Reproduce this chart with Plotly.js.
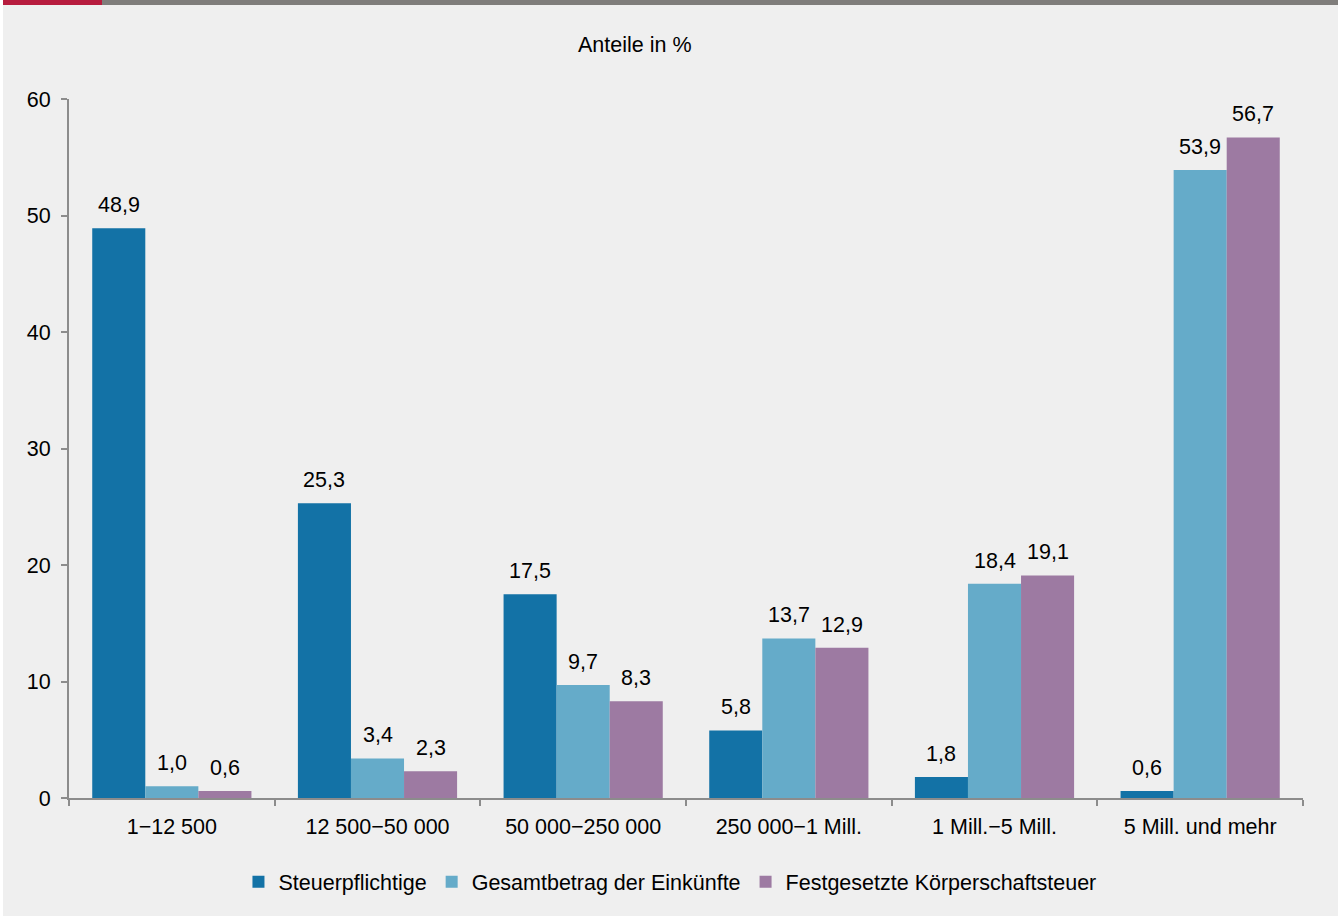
<!DOCTYPE html>
<html>
<head>
<meta charset="utf-8">
<script src="https://cdn.plot.ly/plotly-3.0.1.min.js"></script>
<style>
  html, body { margin: 0; padding: 0; background: #ffffff; }
  #wrap { position: relative; width: 1338px; height: 919px; overflow: hidden; }
  #chart { position: absolute; left: 0; top: 0; width: 1338px; height: 919px; }
  #edge-left { position: absolute; left: 0; top: 0; width: 3px; height: 919px; background: #ffffff; }
  #edge-bottom { position: absolute; left: 0; top: 916px; width: 1338px; height: 3px; background: #ffffff; }
  #bar-grey { position: absolute; left: 3px; top: 0; width: 1335px; height: 5px; background: #7f7d7b; }
  #bar-red { position: absolute; left: 3px; top: 0; width: 99px; height: 5px; background: #b71c3e; }
</style>
</head>
<body>
<div id="wrap">
  <div id="chart"></div>
  <div id="edge-left"></div>
  <div id="edge-bottom"></div>
  <div id="bar-grey"></div>
  <div id="bar-red"></div>
</div>
<script>
// Größenklassen des Gesamtbetrags der Einkünfte (EUR)
const categories = ["1\u221212 500", "12 500\u221250 000", "50 000\u2212250 000",
                    "250 000\u22121 Mill.", "1 Mill.\u22125 Mill.", "5 Mill. und mehr"];

// Anteile in %
const steuerpflichtige = [48.9, 25.3, 17.5, 5.8, 1.8, 0.6];
const gesamtbetrag     = [1.0, 3.4, 9.7, 13.7, 18.4, 53.9];
const festgesetzt      = [0.6, 2.3, 8.3, 12.9, 19.1, 56.7];

const seriesNames  = ["Steuerpflichtige", "Gesamtbetrag der Einkünfte", "Festgesetzte Körperschaftsteuer"];
const seriesColors = ["#1372a6", "#65abc9", "#9d7aa2"];
const seriesValues = [steuerpflichtige, gesamtbetrag, festgesetzt];

const yTicks = [0, 10, 20, 30, 40, 50, 60];

const FONT = "Liberation Sans, Arial, sans-serif";
const FS = 21.5;

// Plot geometry used to place value labels above their bars
const W = 1338, H = 919;
const M = { l: 69, r: 35, t: 99, b: 121 };
const BARGAP = 0.226;
const groupPx = (W - M.l - M.r) / categories.length;
const barPx = groupPx * (1 - BARGAP) / seriesValues.length;

const traces = seriesValues.map((vals, i) => ({
  type: "bar",
  name: seriesNames[i],
  x: categories,
  y: vals,
  marker: { color: seriesColors[i], line: { width: 0 } },
  hoverinfo: "skip"
}));

const fmt = v => v.toFixed(1).replace(".", ",");

const valueLabels = [];
seriesValues.forEach((vals, i) => {
  vals.forEach((v, j) => {
    valueLabels.push({
      text: fmt(v),
      x: categories[j], y: v,
      xref: "x", yref: "y",
      xanchor: "center", yanchor: "bottom",
      xshift: (i - (seriesValues.length - 1) / 2) * barPx,
      yshift: 9,
      showarrow: false,
      font: { family: FONT, size: FS, color: "#000000" }
    });
  });
});

const layout = {
  width: W,
  height: H,
  paper_bgcolor: "#efefef",
  plot_bgcolor: "#efefef",
  separators: ",.",
  font: { family: FONT, size: FS, color: "#000000" },
  margin: { l: M.l, r: M.r, t: M.t, b: M.b, pad: 0 },
  barmode: "group",
  bargap: BARGAP,
  bargroupgap: 0,
  showlegend: true,
  legend: {
    orientation: "h",
    x: 0.487, xanchor: "center",
    y: -0.12, yanchor: "middle",
    font: { family: FONT, size: FS, color: "#000000" },
    itemwidth: 30,
    traceorder: "normal",
    bgcolor: "rgba(0,0,0,0)"
  },
  annotations: [{
    text: "Anteile in %",
    xref: "paper", yref: "paper",
    x: 0.459, y: 1.0, xanchor: "center", yanchor: "bottom",
    yshift: 40,
    showarrow: false,
    font: { family: FONT, size: FS, color: "#000000" }
  }].concat(valueLabels),
  xaxis: {
    type: "category",
    showline: true,
    linecolor: "#8c8c8c",
    linewidth: 2,
    ticks: "outside",
    tickson: "boundaries",
    ticklen: 6,
    tickwidth: 2,
    tickcolor: "#8c8c8c",
    ticklabelstandoff: 8,
    showgrid: false,
    zeroline: false,
    tickfont: { family: FONT, size: FS, color: "#000000" },
    fixedrange: true
  },
  yaxis: {
    range: [0, 60],
    tickvals: yTicks,
    ticktext: yTicks.map(String),
    showline: true,
    linecolor: "#8c8c8c",
    linewidth: 2,
    ticks: "outside",
    ticklen: 6,
    tickwidth: 2,
    tickcolor: "#8c8c8c",
    ticklabelstandoff: 6,
    showgrid: false,
    zeroline: false,
    tickfont: { family: FONT, size: FS, color: "#000000" },
    fixedrange: true
  }
};

Plotly.newPlot("chart", traces, layout, { displayModeBar: false, staticPlot: true });
</script>
</body>
</html>
